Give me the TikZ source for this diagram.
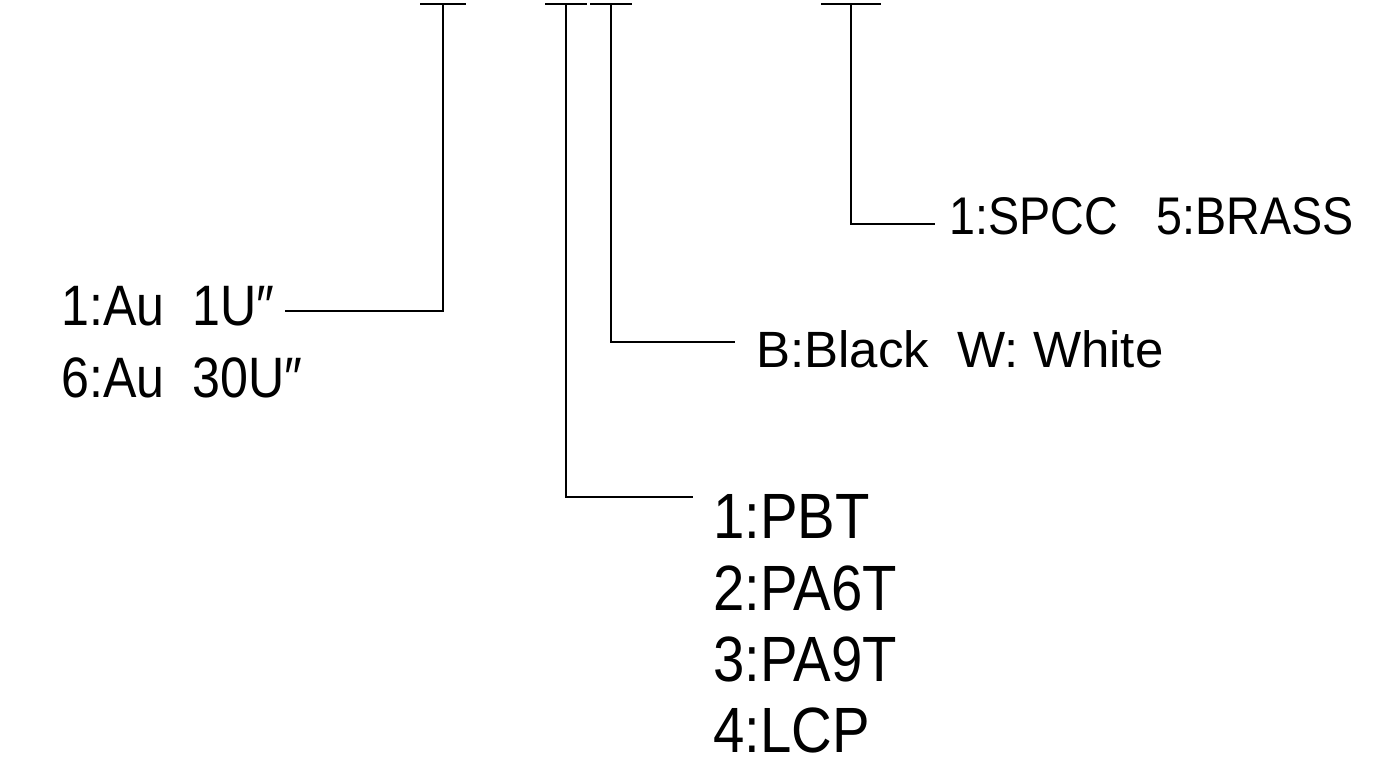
\documentclass[tikz,border=0pt]{standalone}
\usepackage{fontspec}
\newfontfamily\cadfont[FakeStretch=0.88]{Liberation Sans}
\newfontfamily\cadwide{Liberation Sans}
\usetikzlibrary{positioning}

\begin{document}
\begin{tikzpicture}[x=1pt,y=-1pt,line width=2.5pt]

	\tikzset{
		tbar/.style={line width=2.6pt, line cap=rect},
		lead/.style={line width=2.5pt},
		callout/.style={anchor=base west, inner sep=0pt, font=\cadfont\fontsize{57}{72}\selectfont},
		material/.style={anchor=base west, inner sep=0pt, font=\cadfont\fontsize{64}{72}\selectfont},
		colour/.style={anchor=base west, inner sep=0pt, font=\cadwide\fontsize{51}{60}\selectfont},
		metal/.style={anchor=base west, inner sep=0pt, font=\cadfont\fontsize{53}{60}\selectfont},
	}
	\useasboundingbox (0,0) rectangle (1375,768);

	% tops of the code positions
	\coordinate (t1) at (443,4);
	\coordinate (t2) at (566,4);
	\coordinate (t3) at (611,4);
	\coordinate (t4) at (851,4);

	\draw[tbar] ([xshift=-22pt]t1)--([xshift=22pt]t1);
	\draw[tbar] ([xshift=-20pt]t2)--([xshift=20pt]t2);
	\draw[tbar] ([xshift=-20pt]t3)--([xshift=20pt]t3);
	\draw[tbar] ([xshift=-29pt]t4)--([xshift=29pt]t4);

	% plating
	\node[callout] (au1) at (60,325) {1:Au\ \ 1U″};
	\node[callout] (au6) at (60,397) {6:Au\ \ 30U″};
	\coordinate (au-tip) at (285,311);
	\draw[lead] (t1) |- (au-tip);

	% housing material
	\node[material] (pbt) at (712,538) {1:PBT};
	\node[material] (pa6t) at (712,610) {2:PA6T};
	\node[material] (pa9t) at (712,681) {3:PA9T};
	\node[material] (lcp) at (712,752) {4:LCP};
	\coordinate (pbt-tip) at (693,497);
	\draw[lead] (t2) |- (pbt-tip);

	% colour
	\node[colour] (black) at (755,367) {B:Black\ \ W: White};
	\coordinate (black-tip) at (735,342);
	\draw[lead] (t3) |- (black-tip);

	% shell
	\node[metal] (spcc) at (948,234) {1:SPCC\ \ \ 5:BRASS};
	\coordinate (spcc-tip) at (935,224);
	\draw[lead] (t4) |- (spcc-tip);

\end{tikzpicture}
\end{document}
